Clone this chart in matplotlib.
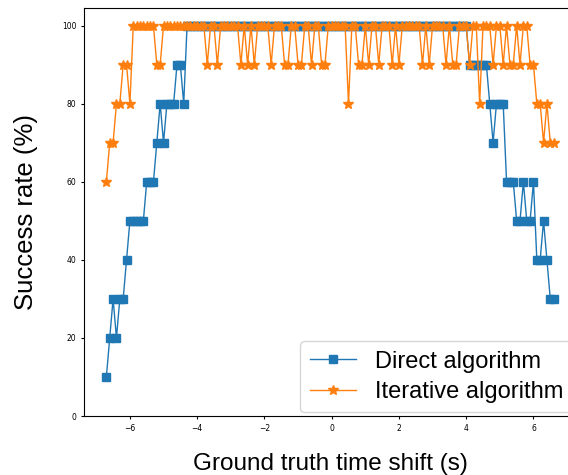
import numpy as np
import matplotlib.pyplot as plt

# time shifts (s), 0.1 s step
shift = np.round(np.arange(-67, 67) / 10.0, 1)

# direct algorithm success rate (%)
direct = [10, 20, 30, 20, 30, 30, 40, 50, 50, 50, 50, 50, 60, 60, 60,
          70, 80, 70, 80, 80, 80, 90, 90, 80] + [100] * 84 + \
         [90, 90, 90, 90, 90, 90, 80, 70, 80, 80, 80,
          60, 60, 60, 50, 50, 60, 50, 50, 60, 40, 40, 50, 40, 30, 30]
direct = direct[:len(shift)]

# iterative algorithm success rate (%)
iterative_dips = {-6.7: 60, -6.6: 70, -6.5: 70, -6.4: 80, -6.3: 80, -6.2: 90,
                  -6.1: 90, -6.0: 80, -5.2: 90, -5.1: 90, -3.7: 90, -3.4: 90,
                  -2.7: 90, -2.5: 90, -2.3: 90, -1.8: 90, -1.4: 90, -1.3: 90,
                  -1.0: 90, -0.9: 90, -0.6: 90, -0.3: 90, -0.2: 90, 0.5: 80,
                  0.8: 90, 0.9: 90, 1.1: 90, 1.4: 90, 1.8: 90, 2.0: 90,
                  2.7: 90, 2.9: 90, 3.4: 90, 3.6: 90, 3.7: 90, 4.1: 90,
                  4.4: 80, 4.8: 90, 5.1: 90, 5.3: 90, 5.4: 90, 5.6: 90,
                  5.9: 90, 6.0: 90, 6.1: 80, 6.2: 80, 6.3: 70, 6.4: 80,
                  6.5: 70, 6.6: 70}
iterative = [iterative_dips.get(float(s), 100) for s in shift]

fig = plt.figure(figsize=(5.68, 4.75), dpi=100)
ax = fig.add_axes([84 / 568, 1 - 416 / 475, (576 - 84) / 568, (416 - 8) / 475])

ax.plot(shift, direct, color='tab:blue', marker='s', markersize=6, linewidth=1,
        label='Direct algorithm')
ax.plot(shift, iterative, color='tab:orange', marker='*', markersize=7, linewidth=1,
        label='Iterative algorithm')

ax.set_ylim(0, 104.5)
ax.tick_params(labelsize=5.5, length=2)
ax.set_xlabel('Ground truth time shift (s)', family='Liberation Sans', size=17.5,
              labelpad=15)
ax.set_ylabel('Success rate (%)', family='Liberation Sans', size=18.5,
              labelpad=17)

ax.legend(loc='lower right', prop={'family': 'Liberation Sans', 'size': 17},
          handlelength=1.95, labelspacing=0.35, borderaxespad=0.15)

fig.savefig('out.png', dpi=100)
